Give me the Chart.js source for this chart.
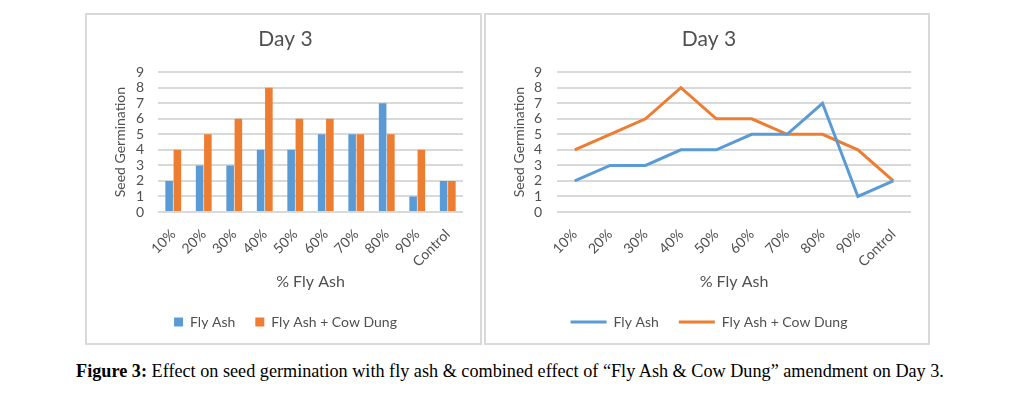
<!DOCTYPE html>
<html>
<head>
<meta charset="utf-8">
<script src="https://cdn.jsdelivr.net/npm/chart.js@4"></script>
<style>
  body { margin: 0; background: #fff; width: 1012px; height: 393px; position: relative; overflow: hidden; }
  .box { position: absolute; border: 2px solid #d9d9d9; box-sizing: border-box; }
  .box canvas { position: absolute; left: 0; top: 0; }
  #caption { position: absolute; left: 4px; width: 1012px; top: 361px; text-align: center;
    font-family: "Liberation Serif", "Times New Roman", serif; font-size: 18.2px; color: #000; }
</style>
</head>
<body>
<div class="box" id="boxBar" style="left:85px; top:13px; width:397px; height:332px;">
  <canvas id="barChart" width="393" height="328"></canvas>
</div>
<div class="box" id="boxLine" style="left:484px; top:13px; width:446px; height:332px;">
  <canvas id="lineChart" width="442" height="328"></canvas>
</div>
<div id="caption"><b>Figure 3:</b> Effect on seed germination with fly ash &amp; combined effect of “Fly Ash &amp; Cow Dung” amendment on Day 3.</div>
<script>
const categories = ['10%', '20%', '30%', '40%', '50%', '60%', '70%', '80%', '90%', 'Control'];
const flyAsh = [2, 3, 3, 4, 4, 5, 5, 7, 1, 2];
const flyAshCowDung = [4, 5, 6, 8, 6, 6, 5, 5, 4, 2];
const yMin = 0;
const yMax = 9;

const BLUE = '#5B9BD5';
const ORANGE = '#ED7D31';
const TEXT = '#505050';
const GRID = '#d9d9d9';

Chart.defaults.font.family = 'Lato, "Open Sans", sans-serif';
Chart.defaults.color = TEXT;
Chart.defaults.animation = false;

function buildScales(yAxisWidth, tickPad) {
  return {
    x: {
      offset: true,
      grid: { display: false },
      border: { display: false },
      ticks: { font: { size: 14 }, color: TEXT, minRotation: 45, maxRotation: 45, padding: 6 },
      title: { display: true, text: '% Fly Ash', font: { size: 16 }, color: TEXT },
      afterFit: s => { s.height = 83; }
    },
    y: {
      min: yMin,
      max: yMax,
      grid: { color: GRID, lineWidth: 2, drawTicks: false },
      border: { display: false },
      ticks: { stepSize: 1, autoSkip: false, font: { size: 14 }, color: TEXT, padding: tickPad },
      title: { display: true, text: 'Seed Germination', font: { size: 14 }, color: TEXT },
      afterFit: s => { s.width = yAxisWidth; }
    }
  };
}

function titleOpts() {
  return {
    display: true,
    text: 'Day 3',
    color: TEXT,
    font: { size: 21, weight: 'normal' },
    padding: { top: 12, bottom: 20 }
  };
}

new Chart(document.getElementById('barChart'), {
  type: 'bar',
  data: {
    labels: categories,
    datasets: [
      { label: 'Fly Ash', data: flyAsh, backgroundColor: BLUE, barPercentage: 0.92, categoryPercentage: 0.54 },
      { label: 'Fly Ash + Cow Dung', data: flyAshCowDung, backgroundColor: ORANGE, barPercentage: 0.92, categoryPercentage: 0.54 }
    ]
  },
  options: {
    responsive: false,
    layout: { padding: { left: 21, right: 17, top: 0, bottom: 4 } },
    plugins: {
      title: titleOpts(),
      legend: {
        position: 'bottom',
        labels: { boxWidth: 9, boxHeight: 9, padding: 20, font: { size: 14 }, color: TEXT }
      },
      tooltip: { enabled: false }
    },
    scales: buildScales(50, 14)
  }
});

new Chart(document.getElementById('lineChart'), {
  type: 'line',
  data: {
    labels: categories,
    datasets: [
      { label: 'Fly Ash', data: flyAsh, borderColor: BLUE, backgroundColor: BLUE, borderWidth: 3, pointRadius: 0, tension: 0 },
      { label: 'Fly Ash + Cow Dung', data: flyAshCowDung, borderColor: ORANGE, backgroundColor: ORANGE, borderWidth: 3, pointRadius: 0, tension: 0 }
    ]
  },
  options: {
    responsive: false,
    layout: { padding: { left: 21, right: 17, top: 0, bottom: 4 } },
    plugins: {
      title: titleOpts(),
      legend: {
        position: 'bottom',
        labels: {
          boxWidth: 36, boxHeight: 3, padding: 20, font: { size: 14 }, color: TEXT,
          generateLabels: chart => Chart.defaults.plugins.legend.labels.generateLabels(chart)
            .map(item => Object.assign(item, { lineWidth: 0 }))
        }
      },
      tooltip: { enabled: false }
    },
    scales: buildScales(50, 15)
  }
});
</script>
</body>
</html>
